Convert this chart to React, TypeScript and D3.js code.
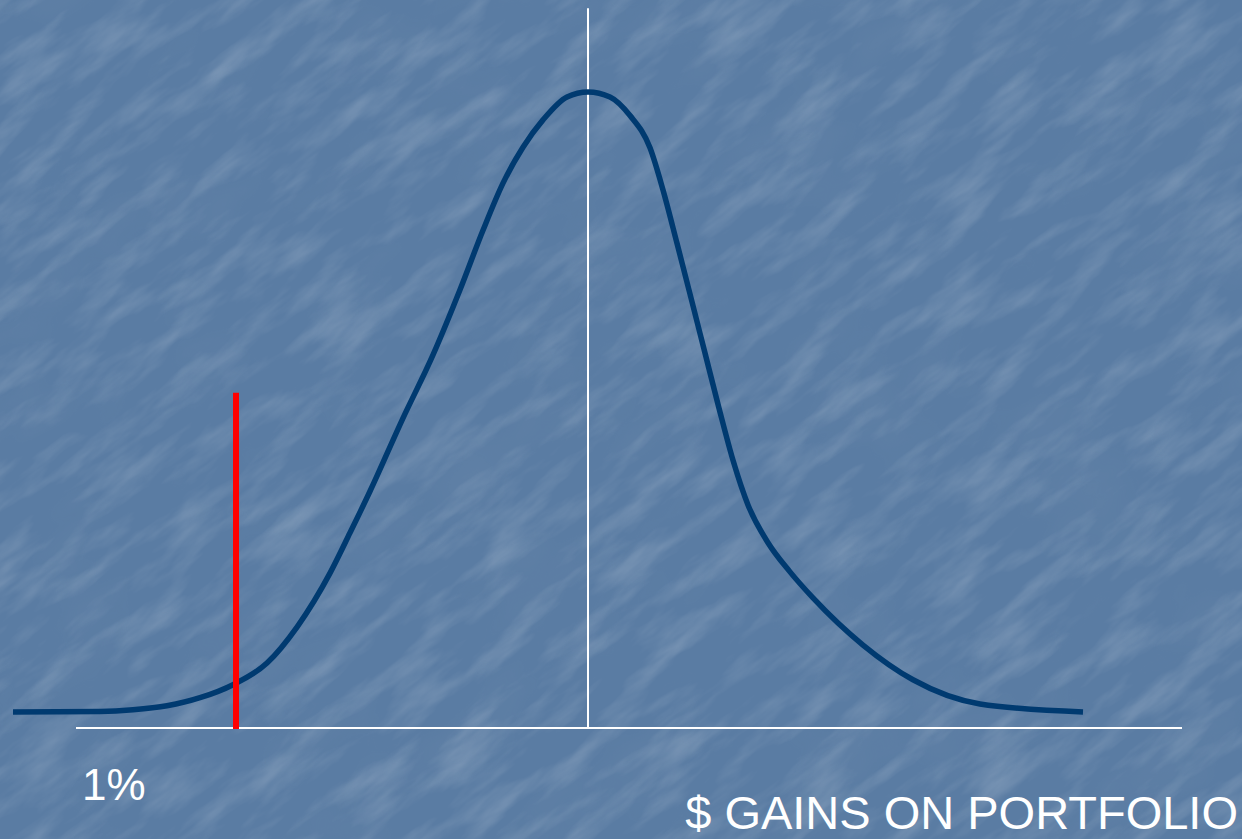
import React from "react";
import * as d3 from "d3";

// Gain values (in standard-deviation-like units, 0 = mean) and relative density
const gains = [-5.75, -4.88, -4.55, -4.21, -3.88, -3.55, -3.21, -2.91, -2.58, -2.38, -2.18, -1.85, -1.55, -1.28, -1.05, -0.85, -0.65, -0.45, -0.21, 0, 0.22, 0.42, 0.62, 0.75, 0.89, 1.03, 1.17, 1.31, 1.45, 1.6, 1.8, 2.02, 2.25, 2.75, 3.25, 3.92, 4.95];
const density = [0, 0.0008, 0.0035, 0.01, 0.023, 0.044, 0.079, 0.137, 0.224, 0.289, 0.356, 0.474, 0.576, 0.681, 0.777, 0.853, 0.911, 0.955, 0.992, 1.0, 0.992, 0.962, 0.91, 0.842, 0.756, 0.668, 0.579, 0.49, 0.406, 0.334, 0.273, 0.226, 0.184, 0.108, 0.052, 0.013, 0];

const axisRange = [-5.12, 5.94];
const meanLine = { x: 0, top: 1.135 };
const varLine = { x: -3.52, top: 0.515 };
const percentLabel = "1%";
const axisLabel = "$ GAINS ON PORTFOLIO";

const W = 1242;
const H = 839;

export default function App() {
  const x = d3.scaleLinear().domain([0, 1]).range([588, 688]);
  const y = d3.scaleLinear().domain([0, 1]).range([712, 92]);
  const axisY = y(0) + 16;

  const pts = gains.map((g, i) => [g, density[i]] as [number, number]);
  const line = d3
    .line<[number, number]>()
    .x((d) => x(d[0]))
    .y((d) => y(d[1]))
    .curve(d3.curveMonotoneX);

  return (
    <svg width={W} height={H} style={{ position: "absolute", left: 0, top: 0, display: "block" }}>
      <defs>
        <filter id="tex" x="0" y="0" width="100%" height="100%">
          <feTurbulence type="fractalNoise" baseFrequency="0.012 0.045" numOctaves={4} seed={7} result="n" />
          <feColorMatrix
            in="n"
            type="matrix"
            values="0 0 0 0 1  0 0 0 0 1  0 0 0 0 1  1.3 0 0 0 -0.58"
          />
        </filter>
        <filter id="tex2" x="0" y="0" width="100%" height="100%">
          <feTurbulence type="fractalNoise" baseFrequency="0.008 0.015" numOctaves={3} seed={3} result="n" />
          <feColorMatrix
            in="n"
            type="matrix"
            values="0 0 0 0 0.2  0 0 0 0 0.3  0 0 0 0 0.45  -1.2 0 0 0 0.62"
          />
        </filter>
      </defs>
      <rect x={0} y={0} width={W} height={H} fill="#5a7ca3" />
      <g transform={`rotate(-38 ${W / 2} ${H / 2})`} opacity={0.3}>
        <rect x={-600} y={-600} width={W + 1200} height={H + 1200} filter="url(#tex2)" />
      </g>
      <g transform={`rotate(-38 ${W / 2} ${H / 2})`} opacity={0.28}>
        <rect x={-600} y={-600} width={W + 1200} height={H + 1200} filter="url(#tex)" />
      </g>

      {/* axis */}
      <line x1={x(axisRange[0])} x2={x(axisRange[1])} y1={axisY} y2={axisY} stroke="#ffffff" strokeWidth={2} />
      {/* mean line */}
      <line x1={x(meanLine.x)} x2={x(meanLine.x)} y1={y(meanLine.top)} y2={axisY} stroke="#ffffff" strokeWidth={2} />

      {/* distribution curve */}
      <path d={line(pts) || ""} fill="none" stroke="#003a70" strokeWidth={5.5} strokeLinecap="butt" />

      {/* VaR line */}
      <line x1={x(varLine.x)} x2={x(varLine.x)} y1={y(varLine.top)} y2={axisY + 1} stroke="#ff0000" strokeWidth={6} />

      <text x={82} y={800} fill="#ffffff" fontFamily="'Liberation Sans', Arial, sans-serif" fontSize={44}>
        {percentLabel}
      </text>
      <text x={1238} y={829} textAnchor="end" fill="#ffffff" fontFamily="'Liberation Sans', Arial, sans-serif" fontSize={47}>
        {axisLabel}
      </text>
    </svg>
  );
}
